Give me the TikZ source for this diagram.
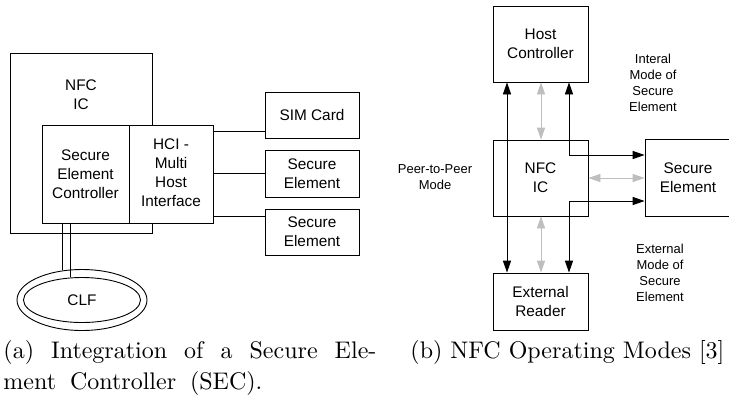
\documentclass[tikz,border=0pt]{standalone}
\usepackage{fontspec}
\newfontfamily\diagf{Liberation Sans}
\usetikzlibrary{arrows.meta,shapes.geometric}
\newcommand\pxu{0.41667pt}
\definecolor{lgray}{RGB}{190,190,190}
\begin{document}
\begin{tikzpicture}[x=0.41667pt,y=-0.41667pt,
  line width=0.38pt,
  mainf/.style={font=\diagf\fontsize{6.4}{7.9}\selectfont},
  smallf/.style={font=\diagf\fontsize{5.4}{6.7}\selectfont},
  blk/.style={draw, fill=white, inner sep=0pt, align=center, mainf},
  bl/.style={{Triangle[length=5pt,width=3.4pt]}-{Triangle[length=5pt,width=3.4pt]}},
  gr/.style={draw=lgray, bl},
  capf/.style={inner sep=0pt, anchor=base west, font=\fontsize{10}{12}\selectfont}
]
\useasboundingbox (0,0) rectangle (729,396);

% ---------- (a) ----------
\node[blk, minimum width={142*\pxu}, minimum height={180*\pxu}] (nfcL) at (81,143) {};
\node[mainf, align=center, inner sep=0pt] (nfcLtxt) at (81,95) {NFC\\IC};
\node[blk, minimum width={87*\pxu}, minimum height={98*\pxu}] (sec) at (85.5,174) {Secure\\Element\\Controller};
\node[blk, minimum width={84*\pxu}, minimum height={98*\pxu}] (hci) at (171,174) {\raisebox{-1.6pt}{\begin{tabular}{@{}c@{}}HCI -\\Multi\\Host\\Interface\end{tabular}}};
\node[blk, minimum width={94*\pxu}, minimum height={46*\pxu}] (sim) at (312,115) {SIM Card};
\node[blk, minimum width={94*\pxu}, minimum height={47*\pxu}] (se1) at (312,173.5) {Secure\\Element};
\node[blk, minimum width={94*\pxu}, minimum height={46*\pxu}] (se2) at (312,232) {Secure\\Element};

\draw (hci.east |- 0,131) -- (sim.west |- 0,131);
\draw (hci.east |- se1.west) -- (se1.west);
\draw (hci.east |- 0,216) -- (se2.west |- 0,216);

\node[draw, ellipse, inner sep=0pt, minimum width={130*\pxu}, minimum height={61*\pxu}] (clfo) at (82,300) {};
\node[draw, ellipse, inner sep=0pt, minimum width={117*\pxu}, minimum height={45*\pxu}, mainf] (clf) at (82,300) {CLF};
\draw (clfo.123 |- sec.south) -- (clfo.123);
\draw (clf.117 |- sec.south) -- (clf.117);

% ---------- (b) ----------
\node[blk, minimum width={95*\pxu}, minimum height={76*\pxu}] (host) at (540.5,44) {Host\\Controller};
\node[blk, minimum width={95*\pxu}, minimum height={76*\pxu}] (nfcR) at (540.5,178) {NFC\\IC};
\node[blk, minimum width={95*\pxu}, minimum height={57*\pxu}] (reader) at (540.5,301.5) {External\\Reader};
\node[blk, minimum width={86*\pxu}, minimum height={76.5*\pxu}] (seR) at (688,178) {Secure\\Element};

\draw[bl] (host.south -| 507,0) -- (reader.north -| 507,0);
\draw[bl] (host.south -| 569,0) |- (seR.west |- 0,155);
\draw[bl] (seR.west |- 0,201) -| (reader.north -| 569,0);

\draw[gr] (host.south -| 541,0) -- (nfcR.north -| 541,0);
\draw[gr] (nfcR.south -| 541,0) -- (reader.north -| 541,0);
\draw[gr] (nfcR.east) -- (seR.west);

\node[smallf, align=center, inner sep=0pt] (lint) at (653,83) {Interal\\Mode of\\Secure\\Element};
\node[smallf, align=center, inner sep=0pt] (lp2p) at (435,177.5) {Peer-to-Peer\\Mode};
\node[smallf, align=center, inner sep=0pt] (lext) at (660,273) {External\\Mode of\\Secure\\Element};

% ---------- captions ----------
\node[capf] (capa1) at (3,358) {\makebox[155.4pt][s]{(a) Integration of a Secure Ele-}};
\node[capf] (capa2) at (3,389) {\makebox[107.9pt][s]{ment Controller (SEC).}};
\node[capf] (capb) at (410,358) {(b) NFC Operating Modes [3]};
\end{tikzpicture}
\end{document}
